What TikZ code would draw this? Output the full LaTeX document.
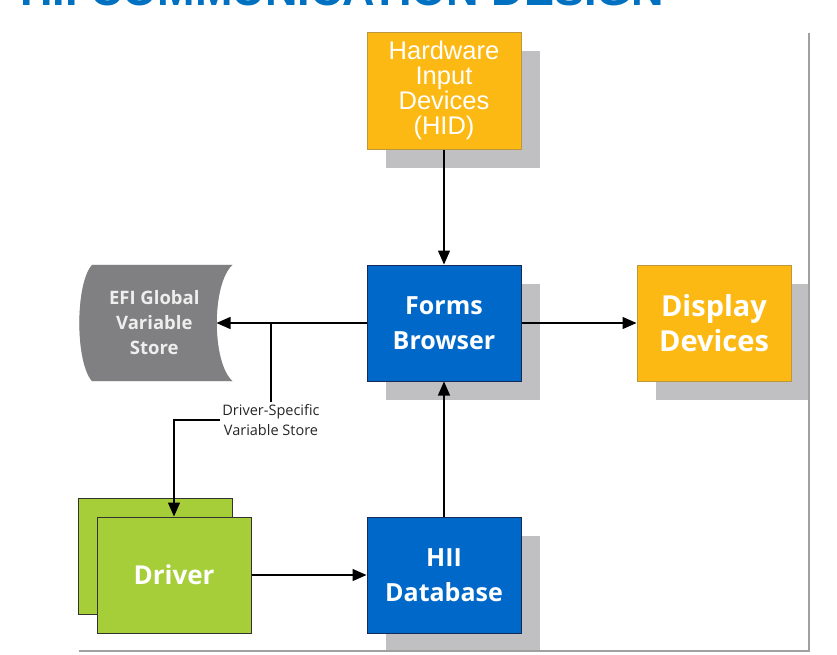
\documentclass[tikz,border=0pt]{standalone}
\usepackage{fontspec}
\setmainfont{Open Sans}
\newfontfamily\arialfont{Liberation Sans}
\usepackage{xcolor}
\definecolor{hidyellow}{RGB}{253,185,19}
\definecolor{hidedge}{RGB}{190,150,60}
\definecolor{formsblue}{RGB}{0,104,200}
\definecolor{formsedge}{RGB}{22,42,86}
\definecolor{drivergreen}{RGB}{166,206,57}
\definecolor{driveredge}{RGB}{50,50,50}
\definecolor{shadowgray}{RGB}{192,192,195}
\definecolor{efigray}{RGB}{128,128,130}
\definecolor{efishade}{RGB}{200,200,200}
\definecolor{efitext}{RGB}{238,238,238}
\definecolor{titleblue}{RGB}{0,112,192}
\definecolor{framegray}{RGB}{160,160,160}
\usepackage{tikz}
\usetikzlibrary{
  arrows.meta,
  positioning,
  calc,
  shadows,
  backgrounds
}
\tikzset{
  boxshadow/.style={drop shadow={shadow xshift=19pt, shadow yshift=-19pt,
    fill=shadowgray, opacity=1}},
  yellowbox/.style={draw=hidedge, fill=hidyellow, line width=1pt,
    minimum width=154pt, minimum height=116pt, inner sep=0pt,
    align=center, text=white, boxshadow},
  bluebox/.style={draw=formsedge, fill=formsblue, line width=1pt,
    minimum width=154pt, minimum height=116pt, inner sep=0pt,
    align=center, text=white, boxshadow,
    font=\bfseries\fontsize{25}{35}\selectfont},
  greenbox/.style={draw=driveredge, fill=drivergreen, line width=1pt,
    minimum width=154pt, minimum height=116pt, inner sep=0pt,
    align=center, text=white,
    font=\bfseries\fontsize{26}{35}\selectfont},
  arr/.style={-{Triangle[length=14pt, width=12pt]}, line width=1.3pt},
  conn/.style={line width=1.3pt},
}

\begin{document}
\begin{tikzpicture}[
  x=1pt, y=-1pt,
  hidtext/.style={font=\arialfont\fontsize{25.5}{25}\selectfont},
  efilabel/.style={minimum width=124pt, minimum height=116pt, inner sep=0pt,
    align=center, text=efitext, font=\bfseries\fontsize{18.5}{25}\selectfont},
  storelabel/.style={align=center, inner sep=2pt, text=black!85,
    font=\fontsize{14.5}{20}\selectfont},
  titletext/.style={text=titleblue, inner sep=0pt,
    font=\arialfont\bfseries\fontsize{45}{48}\selectfont},
  frameline/.style={draw=framegray, line width=1.5pt},
  node distance=115pt
]
  \useasboundingbox (0,0) rectangle (837,654);
  \clip (0,0) rectangle (837,654);

  % Title, cut off by the top edge
  \node[titletext, anchor=base west] (title) at (20,5) {HII COMMUNICATION DESIGN};

  % Forms Browser
  \node[bluebox] (forms) at (444,323) {Forms\\Browser};
  % HID
  \node[yellowbox, hidtext, minimum height=117pt, above=of forms] (hid)
    {Hardware\\Input\\Devices\\(HID)};
  % Display Devices
  \node[yellowbox, right=of forms,
    font=\bfseries\fontsize{29}{35}\selectfont] (display) {Display\\Devices};
  % HII Database
  \node[bluebox, below=135pt of forms] (hii) {HII\\Database};
  % Driver
  \node[greenbox, left=of hii] (driver) {Driver};
  % EFI Global Variable Store
  \node[efilabel, left=150pt of forms] (efi) {EFI Global\\Variable\\Store};
  % Driver-specific store label
  \node[storelabel] (dsvs) at (271,420) {Driver-Specific\\Variable Store};

  \begin{scope}[on background layer]
    % second driver behind
    \node[greenbox] (driverback) at ([shift={(-19pt,19pt)}]driver.center) {};
    % store shape and its shadow
    \fill[efishade, shift={(20pt,-19pt)}] (efi.north west)
      -- ([xshift=16pt]efi.north east)
      .. controls ([xshift=-5pt, yshift=-19pt]efi.north east)
      and ([xshift=-5pt, yshift=19pt]efi.south east)
      .. ([xshift=16pt]efi.south east) -- (efi.south west)
      .. controls ([xshift=-17pt, yshift=19pt]efi.south west)
      and ([xshift=-17pt, yshift=-19pt]efi.north west) .. cycle;
    \fill[efigray] (efi.north west)
      -- ([xshift=16pt]efi.north east)
      .. controls ([xshift=-5pt, yshift=-19pt]efi.north east)
      and ([xshift=-5pt, yshift=19pt]efi.south east)
      .. ([xshift=16pt]efi.south east) -- (efi.south west)
      .. controls ([xshift=-17pt, yshift=19pt]efi.south west)
      and ([xshift=-17pt, yshift=-19pt]efi.north west) .. cycle;
  \end{scope}

  % Arrows
  \draw[arr] (hid) -- (forms);
  \draw[arr] (forms) -- (display);
  \draw[arr] (hii) -- (forms);
  \draw[arr] (driver) -- (hii);
  \draw[arr] (forms) -- (efi);
  \coordinate (split) at (dsvs.north |- forms.west);
  \draw[conn] (split) -- (dsvs.north);
  \draw[arr] (dsvs.west) -| (driver.north);

  % Frame
  \draw[frameline] (79,651) -- (809,651) -- (809,33);
\end{tikzpicture}
\end{document}
